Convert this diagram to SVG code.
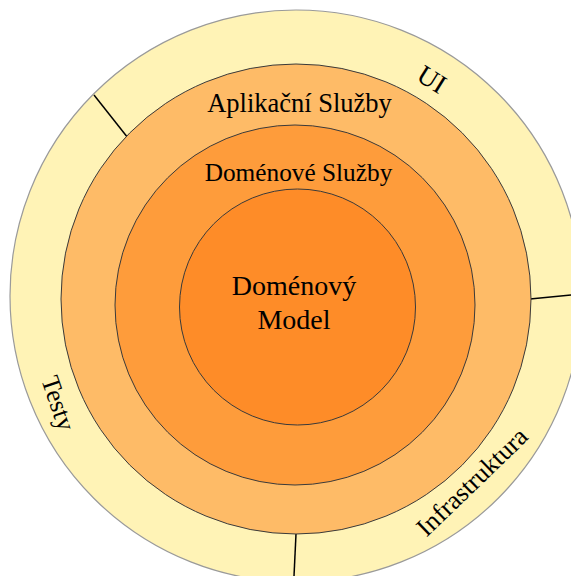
<svg xmlns="http://www.w3.org/2000/svg" width="571" height="576" viewBox="0 0 571 576">
  <style>
    .ring { stroke: #3a3a3a; stroke-width: 1; }
    .lbl { font-family: "Liberation Serif", "Times New Roman", serif; fill: #000; text-anchor: middle; }
    .div { stroke: #000; stroke-width: 1.5; }
  </style>
  <rect width="571" height="576" fill="#fff"/>

  <!-- outer ring: UI / Infrastructure / Tests -->
  <g id="outer">
    <circle cx="296" cy="296" r="286" fill="#FFF3B6" stroke="#9a9a9a" stroke-width="1.2"/>
    <text class="lbl" font-size="27" transform="translate(427,87) rotate(32)">UI</text>
    <text class="lbl" font-size="26" transform="translate(50,406) rotate(71)">Testy</text>
    <text class="lbl" font-size="26" transform="translate(478,488) rotate(-44)">Infrastruktura</text>
  </g>

  <!-- ring separators -->
  <g id="dividers">
    <line class="div" x1="94" y1="95" x2="128" y2="138"/>
    <line class="div" x1="530" y1="299" x2="571" y2="295"/>
    <line class="div" x1="296" y1="534" x2="294" y2="576"/>
  </g>

  <g id="app-services">
    <circle class="ring" cx="296" cy="299" r="235" fill="#FEBB67"/>
    <text class="lbl" font-size="26.5" x="299.5" y="112">Aplikační Služby</text>
  </g>

  <g id="domain-services">
    <circle class="ring" cx="295" cy="305" r="180" fill="#FE9C3B"/>
    <text class="lbl" font-size="25.3" x="298.5" y="181">Doménové Služby</text>
  </g>

  <g id="domain-model">
    <circle class="ring" cx="297.5" cy="307" r="118" fill="#FE8C28"/>
    <text class="lbl" font-size="28" x="294" y="295">Doménový</text>
    <text class="lbl" font-size="28" x="294" y="329">Model</text>
  </g>
</svg>
